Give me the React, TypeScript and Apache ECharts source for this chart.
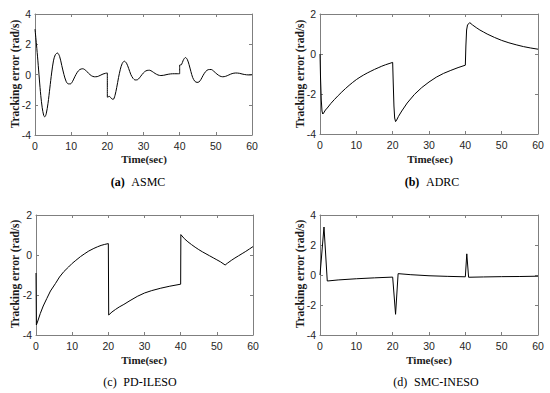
import React, { useEffect, useRef } from "react";
import * as echarts from "echarts";

// ---- data ----
const asmcData: [number, number][] = [
  [0, 3.0], [0.4, 2.0], [0.8, 0.9], [1.2, -0.3], [1.6, -1.4], [2.0, -2.2], [2.4, -2.7], [2.7, -2.8],
  [3.1, -2.6], [3.6, -1.9], [4.1, -0.9], [4.6, 0.1], [5.1, 0.9], [5.6, 1.3], [6.2, 1.42], [6.8, 1.2],
  [7.4, 0.6], [8.0, 0.0], [8.6, -0.45], [9.2, -0.62], [9.8, -0.62], [10.4, -0.45], [11.0, -0.15],
  [11.7, 0.15], [12.4, 0.33], [13.2, 0.38], [14.0, 0.28], [14.8, 0.08], [15.6, -0.08], [16.4, -0.15],
  [17.2, -0.14], [18.0, -0.06], [18.8, 0.03], [19.5, 0.08], [20, 0.1],
  [20, -1.5], [20.6, -1.45], [21.1, -1.58], [21.6, -1.65], [22.1, -1.4], [22.6, -0.85], [23.1, -0.2],
  [23.6, 0.35], [24.1, 0.72], [24.7, 0.88], [25.3, 0.75], [25.9, 0.4], [26.5, 0.0], [27.1, -0.25],
  [27.7, -0.36], [28.3, -0.35], [28.9, -0.22], [29.6, 0.0], [30.3, 0.18], [31.0, 0.27], [31.7, 0.28],
  [32.4, 0.2], [33.2, 0.07], [34.0, -0.03], [34.8, -0.07], [35.6, -0.05], [36.5, 0.0], [37.5, 0.04],
  [38.5, 0.05], [39.5, 0.05], [40, 0.05],
  [40, 0.62], [40.5, 0.65], [41.0, 0.95], [41.6, 1.12], [42.1, 1.0], [42.6, 0.65], [43.1, 0.2],
  [43.6, -0.2], [44.2, -0.45], [44.8, -0.52], [45.3, -0.5], [45.9, -0.32], [46.5, -0.05], [47.2, 0.2],
  [47.9, 0.32], [48.7, 0.33], [49.5, 0.2], [50.3, 0.03], [51.1, -0.1], [51.9, -0.15], [52.7, -0.12],
  [53.6, -0.03], [54.5, 0.06], [55.5, 0.1], [56.5, 0.08], [57.5, 0.02], [58.5, -0.02], [59.3, -0.03],
  [60, -0.02],
];

const adrcData: [number, number][] = [
  [0, 0], [0.15, -1.2], [0.35, -2.3], [0.55, -2.85], [0.75, -3.0], [1.0, -2.95], [1.5, -2.8], [2, -2.7],
  [3, -2.47], [4, -2.27], [5, -2.08], [6, -1.9], [7, -1.73], [8, -1.57], [9, -1.42], [10, -1.28],
  [11, -1.16], [12, -1.05], [13, -0.95], [14, -0.86], [15, -0.77], [16, -0.69], [17, -0.61],
  [18, -0.54], [19, -0.48], [20, -0.42],
  [20.15, -1.4], [20.35, -2.6], [20.55, -3.2], [20.8, -3.38], [21.1, -3.3], [21.6, -3.12], [22.5, -2.85],
  [24, -2.45], [26, -2.02], [28, -1.68], [30, -1.4], [32, -1.16], [34, -0.97], [36, -0.82], [38, -0.68],
  [40, -0.56],
  [40.15, 0.4], [40.35, 1.2], [40.6, 1.45], [41.2, 1.57], [42, 1.45], [43, 1.32], [44, 1.2], [45, 1.1],
  [46, 1.0], [48, 0.83], [50, 0.68], [52, 0.56], [54, 0.46], [56, 0.37], [58, 0.3], [60, 0.24],
];

const pdilesoData: [number, number][] = [
  [0, -0.9], [0.1, -3.5], [0.5, -3.3], [1.2, -2.92], [2, -2.55], [3, -2.17], [4, -1.8], [5.4, -1.42],
  [6.5, -1.1], [7.7, -0.83], [9, -0.6], [10, -0.42], [11, -0.27], [12.3, -0.08], [13.5, 0.07],
  [14.6, 0.2], [16, 0.33], [17, 0.41], [18, 0.48], [19, 0.53], [20, 0.57],
  [20.1, -3.0], [21, -2.85], [22, -2.72], [23, -2.6], [24.3, -2.47], [26, -2.28], [28, -2.07],
  [30, -1.9], [32, -1.78], [34.5, -1.66], [37, -1.56], [40, -1.46],
  [40.05, 1.02], [41, 0.82], [42, 0.66], [43, 0.52], [44, 0.39], [45, 0.27], [46, 0.16], [47, 0.06],
  [48, -0.04], [49, -0.14], [50, -0.24], [51, -0.34], [52.3, -0.5],
  [53, -0.4], [54, -0.27], [55, -0.15], [56, -0.04], [57, 0.07], [58, 0.18], [59, 0.3], [60, 0.42],
];

const smcinesoData: [number, number][] = [
  [0, 0], [1.1, 3.2], [2.0, -0.4], [5, -0.33], [10, -0.25], [15, -0.19], [20, -0.14],
  [20.8, -2.62], [21.5, 0.09], [25, 0.02], [30, -0.05], [35, -0.09], [40, -0.12],
  [40.4, 1.41], [40.9, -0.15], [45, -0.13], [50, -0.11], [55, -0.1], [60, -0.08],
];

const panelTags = ["(a)", "(b)", "(c)", "(d)"];
const panelNames = ["ASMC", "ADRC", "PD-ILESO", "SMC-INESO"];
const yRanges: [number, number][] = [[-4, 4], [-4, 2], [-4, 2], [-4, 4]];
const xLabel = "Time(sec)";
const yLabel = "Tracking error (rad/s)";

// ---- layout ----
const grids = [
  { left: 35, top: 14, width: 217, height: 121 },
  { left: 320, top: 14, width: 218, height: 120 },
  { left: 36, top: 215, width: 217, height: 120 },
  { left: 320, top: 215, width: 218, height: 120 },
];
const yNamePos = [[15, 74], [300, 74], [15, 274], [300, 274]];
const xNamePos = [[144, 159], [430, 159], [144, 360], [429, 360]];
const captionPos = [[138, 182], [432, 182], [140, 382], [436, 382]];
const tagBold = [true, true, false, false];

const axisColor = "#7f7f7f";
const labelColor = "#262626";

export default function App() {
  const ref = useRef<HTMLDivElement>(null);
  useEffect(() => {
    if (!ref.current) return;
    const chart = echarts.init(ref.current, undefined, { renderer: "svg" });
    const datasets = [asmcData, adrcData, pdilesoData, smcinesoData];

    const xAxis: any[] = [];
    const yAxis: any[] = [];
    const series: any[] = [];
    const graphic: any[] = [];

    grids.forEach((g, i) => {
      const base = {
        gridIndex: i,
        type: "value",
        splitLine: { show: false },
        axisLine: { show: true, onZero: false, lineStyle: { color: axisColor, width: 1 } },
        axisTick: { show: true, inside: true, length: 3, lineStyle: { color: axisColor } },
      };
      xAxis.push({
        ...base,
        position: "bottom",
        min: 0,
        max: 60,
        interval: 10,
        axisLabel: { fontFamily: "Liberation Sans", fontSize: 10.5, color: labelColor, margin: 5 },
      });
      xAxis.push({
        ...base,
        position: "top",
        min: 0,
        max: 60,
        interval: 10,
        axisLabel: { show: false },
      });
      yAxis.push({
        ...base,
        position: "left",
        min: yRanges[i][0],
        max: yRanges[i][1],
        interval: 2,
        axisLabel: { fontFamily: "Liberation Sans", fontSize: 10.5, color: labelColor, margin: 4 },
      });
      yAxis.push({
        ...base,
        position: "right",
        min: yRanges[i][0],
        max: yRanges[i][1],
        interval: 2,
        axisLabel: { show: false },
      });
      series.push({
        type: "line",
        xAxisIndex: i * 2,
        yAxisIndex: i * 2,
        data: datasets[i],
        showSymbol: false,
        smooth: i === 0 ? 0.3 : false,
        lineStyle: { color: "#000", width: 1 },
        z: 3,
      });
      graphic.push({
        type: "text",
        x: yNamePos[i][0],
        y: yNamePos[i][1],
        rotation: Math.PI / 2,
        style: {
          text: yLabel,
          fontFamily: "Liberation Serif",
          fontWeight: "bold",
          fontSize: 11.5,
          fill: "#1a1a1a",
          textAlign: "center",
          textVerticalAlign: "middle",
        },
      });
      graphic.push({
        type: "text",
        x: xNamePos[i][0],
        y: xNamePos[i][1],
        style: {
          text: xLabel,
          fontFamily: "Liberation Serif",
          fontWeight: "bold",
          fontSize: 11,
          fill: "#1a1a1a",
          textAlign: "center",
          textVerticalAlign: "middle",
        },
      });
      graphic.push({
        type: "text",
        x: captionPos[i][0],
        y: captionPos[i][1],
        style: {
          text: "{t|" + panelTags[i] + "}  {n|" + panelNames[i] + "}",
          textAlign: "center",
          textVerticalAlign: "middle",
          rich: {
            t: {
              fontFamily: "Liberation Serif",
              fontSize: 12,
              fontWeight: tagBold[i] ? "bold" : "normal",
              color: "#111",
            },
            n: { fontFamily: "Liberation Serif", fontSize: 12, color: "#111" },
          },
        },
      });
    });

    chart.setOption({
      animation: false,
      backgroundColor: "#ffffff",
      grid: grids.map((g) => ({ ...g, containLabel: false })),
      xAxis,
      yAxis,
      series,
      graphic,
    });
    return () => chart.dispose();
  }, []);
  return (
    <div
      ref={ref}
      style={{ position: "fixed", left: 0, top: 0, width: 550, height: 393, background: "#fff" }}
    />
  );
}
